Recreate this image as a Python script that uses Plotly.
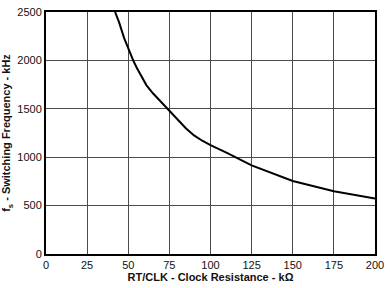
import plotly.graph_objects as go

resistance_kohm = [42, 44.5, 47.5, 50, 51.5, 53, 55, 58, 61, 65, 70, 75, 80, 85, 90, 95, 100, 110, 125, 150, 175, 200]
frequency_khz = [2500, 2390, 2230, 2120, 2070, 2000, 1930, 1830, 1745, 1660, 1570, 1490, 1390, 1300, 1225, 1170, 1125, 1045, 915, 755, 648, 572]

x_ticks = [0, 25, 50, 75, 100, 125, 150, 175, 200]
y_ticks = [0, 500, 1000, 1500, 2000, 2500]

fig = go.Figure()
fig.add_trace(go.Scatter(x=resistance_kohm, y=frequency_khz, mode="lines",
                         line=dict(color="black", width=2), showlegend=False))

font = dict(family="Liberation Sans, Arial, sans-serif", size=11, color="#111")
fig.update_layout(
    width=390, height=288,
    margin=dict(l=44, r=12, t=6, b=32),
    paper_bgcolor="white", plot_bgcolor="white",
    font=font,
)
fig.update_xaxes(range=[0, 200], tickvals=x_ticks, showgrid=True, gridcolor="#4a4a4a", gridwidth=1,
                 showline=True, linecolor="black", linewidth=2, mirror=True, ticks="", zeroline=False,
                 title=dict(text="<b>RT/CLK - Clock Resistance - kΩ</b>", font=dict(size=11), standoff=3))
fig.update_yaxes(range=[0, 2500], tickvals=y_ticks, showgrid=True, gridcolor="#4a4a4a", gridwidth=1,
                 showline=True, linecolor="black", linewidth=2, mirror=True, ticks="", zeroline=False,
                 title=dict(text="<b>f<sub>s</sub> - Switching Frequency - kHz</b>", font=dict(size=11), standoff=4))
fig.write_html("out.html")
